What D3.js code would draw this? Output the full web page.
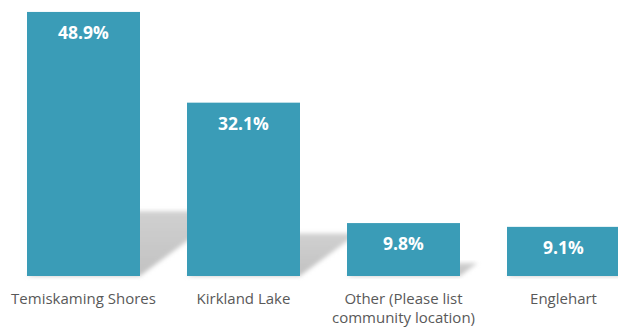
<!DOCTYPE html>
<html>
<head>
<meta charset="utf-8">
<script src="https://cdn.jsdelivr.net/npm/d3@7"></script>
<style>
  body { margin: 0; background: #fff; }
  svg { display: block; }
</style>
</head>
<body>
<svg width="618" height="327"></svg>
<script>

var categories = ["Temiskaming Shores", "Kirkland Lake", "Other (Please list community location)", "Englehart"];
var labelLines = [["Temiskaming Shores"], ["Kirkland Lake"], ["Other (Please list", "community location)"], ["Englehart"]];
var values = [48.9, 32.1, 9.8, 9.1];

var svg = d3.select("svg"),
  width = +svg.attr("width"),
  height = +svg.attr("height");

var base = 276;

var x = d3.scaleBand()
  .domain(categories)
  .range([3.5, 643.5])
  .paddingInner(0.29375)
  .paddingOuter(0.146875);

var y = d3.scaleLinear()
  .domain([0, 50])
  .range([base, base - 270]);

var data = categories.map(function(c, i) {
  return { name: c, value: values[i], lines: labelLines[i] };
});

// soft blur for the floor shadows
var defs = svg.append("defs");
defs.append("filter")
  .attr("id", "blur")
  .attr("x", "-20%").attr("y", "-20%")
  .attr("width", "140%").attr("height", "140%")
  .append("feGaussianBlur")
  .attr("stdDeviation", 2.2);

var grad = defs.append("linearGradient")
  .attr("id", "shade")
  .attr("x1", 0).attr("y1", 1).attr("x2", 0).attr("y2", 0);
grad.append("stop").attr("offset", "0%").attr("stop-color", "#c2c2c2");
grad.append("stop").attr("offset", "100%").attr("stop-color", "#d0d0d0");

// shadows first so bars sit on top
svg.append("g")
  .attr("class", "shadows")
  .selectAll("path")
  .data(data)
  .enter().append("path")
  .attr("filter", "url(#blur)")
  .attr("fill", "url(#shade)")
  .attr("d", function(d) {
    var h = (base - y(d.value)) * 0.245,
      dx = h * 1.35,
      x0 = x(d.name),
      x1 = x0 + x.bandwidth();
    return "M" + x0 + "," + base + "L" + x1 + "," + base +
      "L" + (x1 + dx) + "," + (base - h) + "L" + (x0 + dx) + "," + (base - h) + "Z";
  });

var bar = svg.append("g")
  .attr("class", "bars")
  .selectAll(".bar")
  .data(data)
  .enter().append("g")
  .attr("class", "bar");

bar.append("rect")
  .attr("x", function(d) { return x(d.name); })
  .attr("y", function(d) { return y(d.value); })
  .attr("width", x.bandwidth())
  .attr("height", function(d) { return base - y(d.value); })
  .attr("fill", "#3a9cb7");

bar.append("text")
  .attr("x", function(d) { return x(d.name) + x.bandwidth() / 2; })
  .attr("y", function(d) { return y(d.value) + 21; })
  .attr("dy", ".35em")
  .attr("text-anchor", "middle")
  .style("font-family", "'Open Sans', sans-serif")
  .style("font-weight", "bold")
  .style("font-size", "17.5px")
  .style("fill", "#ffffff")
  .text(function(d) { return d3.format(".1f")(d.value) + "%"; });

// category labels
var lab = svg.append("g")
  .attr("class", "labels")
  .selectAll("text")
  .data(data)
  .enter().append("text")
  .attr("text-anchor", "middle")
  .attr("x", function(d) { return x(d.name) + x.bandwidth() / 2; })
  .attr("y", 304)
  .style("font-family", "'Open Sans', sans-serif")
  .style("font-size", "15px")
  .style("fill", "#595959");

lab.selectAll("tspan")
  .data(function(d) { return d.lines; })
  .enter().append("tspan")
  .attr("x", function() { return d3.select(this.parentNode).attr("x"); })
  .attr("dy", function(d, i) { return i ? 19 : 0; })
  .text(function(d) { return d; });

</script>
</body>
</html>
